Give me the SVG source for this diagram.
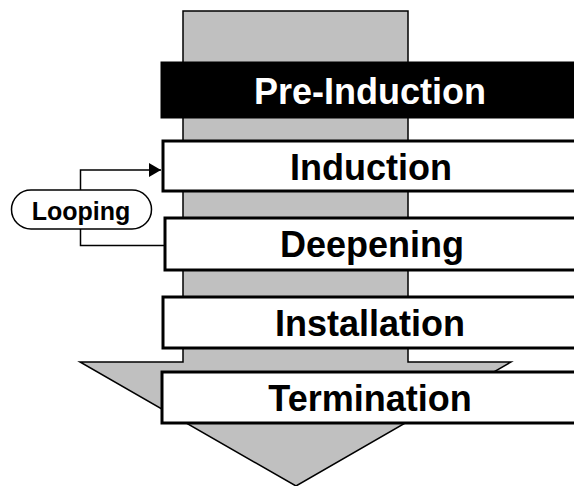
<svg xmlns="http://www.w3.org/2000/svg" width="574" height="486" viewBox="0 0 574 486">
<style>
.box{fill:#fff;stroke:#000;stroke-width:3}
.lbl{font-family:"Liberation Sans",Arial,sans-serif;font-weight:bold;font-size:36px;text-anchor:middle;fill:#000}
.conn{fill:none;stroke:#000;stroke-width:1.5}
</style>
<defs>
<marker id="ah" markerWidth="12" markerHeight="14" refX="12" refY="7" orient="auto" markerUnits="userSpaceOnUse"><path d="M0,0 L12,7 L0,14 z" fill="#000"/></marker>
</defs>
<rect width="574" height="486" fill="#fff"/>
<g id="flow-arrow">
<polygon points="183,11 408,11 408,362 511,362 296,486 80,362 183,362" fill="#c0c0c0" stroke="#000" stroke-width="1.5"/>
</g>
<g id="pre-induction">
<rect x="162" y="63" width="420" height="54" fill="#000" stroke="#000" stroke-width="3"/>
<text class="lbl" x="370" y="104" style="fill:#fff">Pre-Induction</text>
</g>
<g id="induction">
<rect class="box" x="163" y="141" width="420" height="50"/>
<text class="lbl" x="371" y="180">Induction</text>
</g>
<g id="deepening">
<rect class="box" x="165" y="218" width="420" height="52"/>
<text class="lbl" x="372" y="257">Deepening</text>
</g>
<g id="installation">
<rect class="box" x="163" y="297" width="420" height="51"/>
<text class="lbl" x="370" y="336">Installation</text>
</g>
<g id="termination">
<rect class="box" x="162" y="372" width="420" height="51"/>
<text class="lbl" x="370" y="411">Termination</text>
</g>
<g id="looping">
<rect x="11.5" y="190" width="140" height="39" rx="19.5" fill="#fff" stroke="#000" stroke-width="1.5"/>
<text x="81" y="219.5" style="font-family:'Liberation Sans',Arial,sans-serif;font-weight:bold;font-size:25px;text-anchor:middle">Looping</text>
</g>
<g id="connectors">
<path class="conn" d="M80.5,190 V170 H161" marker-end="url(#ah)"/>
<path class="conn" d="M80.5,229 V245.5 H164"/>
</g>
</svg>
